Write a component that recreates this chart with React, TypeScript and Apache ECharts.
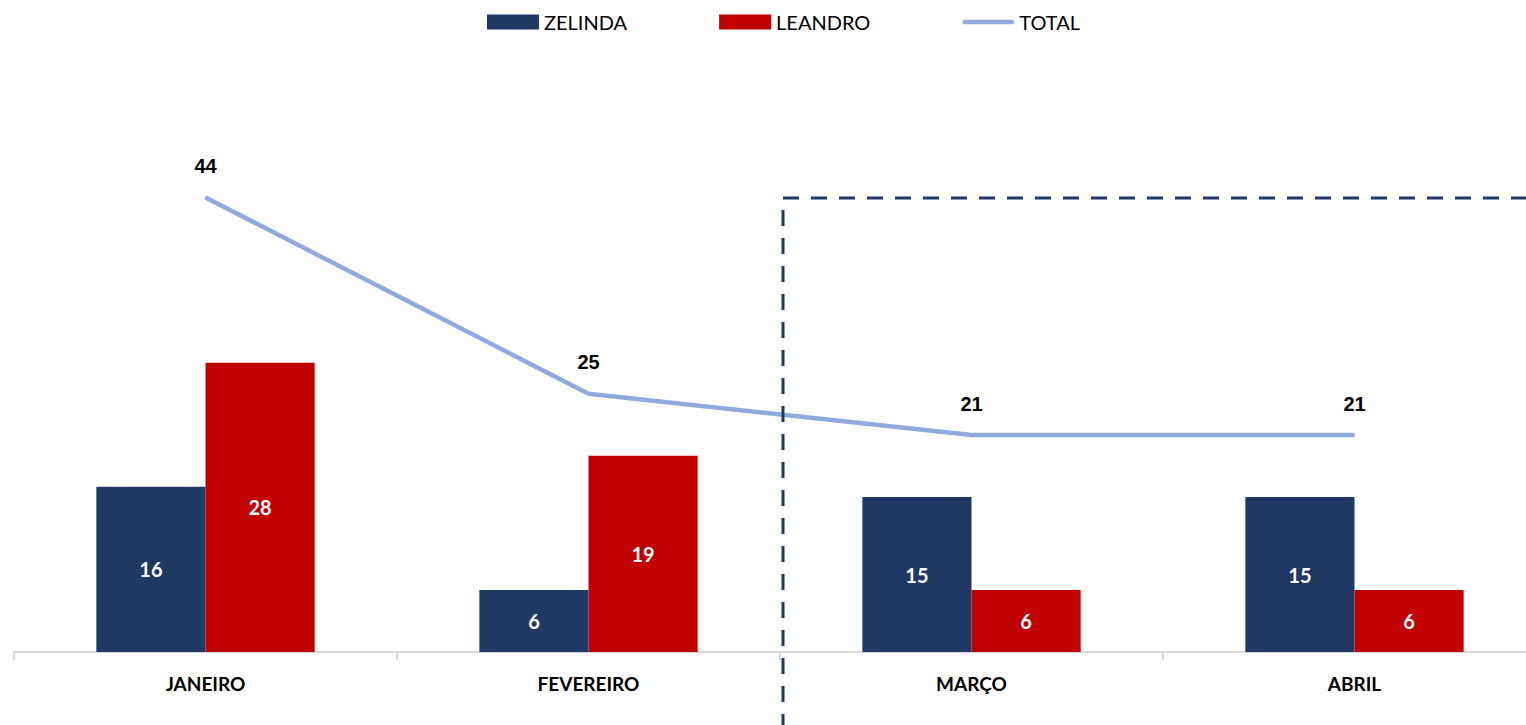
import React, { useEffect, useRef } from "react";
import * as echarts from "echarts";

const categories = ["JANEIRO", "FEVEREIRO", "MARÇO", "ABRIL"];
const zelinda = [16, 6, 15, 15];
const leandro = [28, 19, 6, 6];
const total = [44, 25, 21, 21];

const CAL = "Lato, 'Open Sans', sans-serif";

export default function App() {
  const ref = useRef<HTMLDivElement>(null);
  useEffect(() => {
    if (!ref.current) return;
    const chart = echarts.init(ref.current, undefined, { renderer: "svg" });
    chart.setOption({
      animation: false,
      backgroundColor: "#ffffff",
      legend: {
        top: 7,
        left: 482,
        itemWidth: 52,
        itemHeight: 15,
        itemGap: 92,
        textStyle: { fontFamily: CAL, fontSize: 20, color: "#000" },
        data: [
          { name: "ZELINDA", icon: "rect" },
          { name: "LEANDRO", icon: "rect" },
          {
            name: "TOTAL",
            icon: "path://M2.5,0 H52.5 A2.5,2.5 0 0 1 52.5,5 H2.5 A2.5,2.5 0 0 1 2.5,0 Z",
            itemStyle: { color: "#8FAADC", opacity: 1 },
          },
        ],
      },
      grid: { left: 14, right: 0, top: 135.5, bottom: 73, containLabel: false },
      xAxis: {
        type: "category",
        data: categories,
        axisLine: { lineStyle: { color: "#D9D9D9", width: 2 } },
        axisTick: { show: true, length: 8, lineStyle: { color: "#D9D9D9", width: 2 } },
        axisLabel: {
          color: "#000",
          fontFamily: CAL,
          fontWeight: "bold",
          fontSize: 19,
          margin: 22,
        },
      },
      yAxis: { type: "value", min: 0, max: 50, show: false, splitLine: { show: false } },
      series: [
        {
          name: "ZELINDA",
          type: "bar",
          data: zelinda,
          barGap: "0%",
          barCategoryGap: "43%",
          itemStyle: { color: "#203864" },
          label: {
            show: true,
            position: "inside",
            color: "#fff",
            fontFamily: CAL,
            fontWeight: "bold",
            fontSize: 20,
          },
        },
        {
          name: "LEANDRO",
          type: "bar",
          data: leandro,
          itemStyle: { color: "#C00000" },
          label: {
            show: true,
            position: "inside",
            color: "#fff",
            fontFamily: CAL,
            fontWeight: "bold",
            fontSize: 20,
          },
        },
        {
          name: "TOTAL",
          type: "line",
          data: total,
          symbol: "circle",
          symbolSize: 1,
          showSymbol: true,
          lineStyle: { color: "#8FAADC", width: 4.5 },
          itemStyle: { color: "#8FAADC" },
          label: {
            show: true,
            position: "top",
            distance: 21,
            color: "#000",
            fontFamily: "'Liberation Sans', Arial, sans-serif",
            fontWeight: "bold",
            fontSize: 20,
          },
        },
      ],
      graphic: [
        {
          type: "rect",
          shape: { x: 783, y: 198, width: 800, height: 600 },
          style: { fill: "none", stroke: "#203864", lineWidth: 3, lineDash: [16, 12] },
          silent: true,
          z: 10,
        },
      ],
    });
    return () => chart.dispose();
  }, []);
  return (
    <div style={{ position: "fixed", left: 0, top: 0, width: 1526, height: 725, overflow: "hidden" }}>
      <div ref={ref} style={{ width: 1546, height: 725 }} />
    </div>
  );
}
